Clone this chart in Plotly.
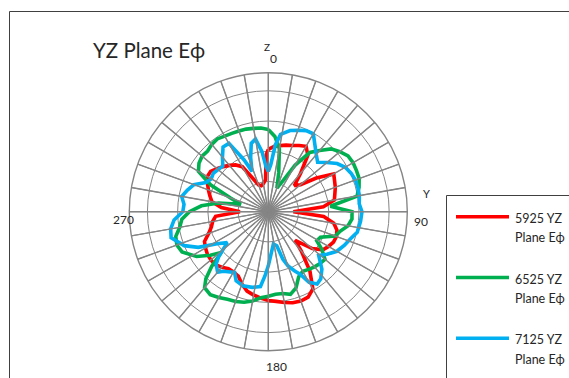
import plotly.graph_objects as go

W, H = 569, 378

# ---------------- data ----------------
series_names = ["5925 YZ Plane Eϕ", "6525 YZ Plane Eϕ", "7125 YZ Plane Eϕ"]
series_colors = ["#FF0000", "#00B050", "#00B0F0"]

theta_5925 = [0, 5, 10, 15, 20, 25, 30, 35, 40, 45, 50, 55, 60, 65, 70, 75, 80, 85, 90, 95,
              100, 105, 110, 115, 120, 125, 130, 137, 140, 145, 150, 155, 160, 165, 170, 175,
              180, 185, 190, 195, 200, 205, 210, 215, 220, 225, 230, 235, 240, 245, 250, 255,
              260, 265, 270, 275, 280, 285, 290, 295, 300, 305, 310, 315, 320, 325, 330, 335,
              340, 345, 350, 355, 358]
r_5925 = [20.6, 21.7, 22.2, 22.8, 23.3, 24.2, 25.0, 22.8, 16.7, 12.2, 13.9, 19.4, 25.0, 24.2,
          23.6, 22.8, 22.2, 18.3, 8.3, 18.4, 22.0, 23.5, 24.0, 23.8, 23.0, 22.0, 19.0, 13.0,
          17.0, 24.0, 29.5, 31.2, 31.5, 31.2, 30.5, 29.8, 29.4, 28.7, 28.0, 27.2, 25.5, 23.5,
          23.0, 23.0, 24.0, 24.8, 24.8, 24.6, 24.0, 23.3, 21.0, 19.5, 18.7, 17.5, 9.4, 15.6,
          18.9, 20.0, 21.1, 22.2, 23.3, 23.3, 22.2, 21.1, 20.0, 18.9, 17.2, 12.2, 9.4, 8.9,
          9.4, 10.6, 18.9]

theta_6525 = [0, 5, 10, 15, 20, 25, 30, 35, 40, 45, 50, 55, 60, 65, 70, 75, 80, 85, 90, 95,
              100, 105, 110, 116, 121, 125, 130, 135, 140, 145, 150, 155, 160, 165, 170, 175,
              180, 185, 190, 195, 200, 205, 210, 215, 220, 223, 226, 229, 233, 238, 245, 250,
              255, 260, 265, 270, 275, 280, 285, 290, 295, 300, 305, 310, 315, 320, 325, 330,
              335, 340, 345, 350, 355]
r_6525 = [27.2, 25.0, 21.1, 13.3, 8.3, 11.1, 17.8, 23.9, 26.4, 29.4, 30.9, 32.2, 32.4, 32.2,
          32.0, 31.1, 29.8, 20.6, 27.7, 27.8, 26.8, 24.7, 23.6, 19.2, 18.7, 21.6, 24.5, 24.2,
          23.8, 23.3, 22.8, 23.8, 26.8, 28.3, 27.5, 27.4, 28.0, 28.6, 30.0, 31.0, 31.6, 32.0,
          32.8, 33.5, 32.8, 30.3, 26.0, 20.6, 24.0, 28.0, 31.5, 32.2, 31.7, 29.8, 28.7, 26.1,
          22.2, 16.7, 9.4, 13.3, 21.1, 26.7, 28.0, 28.6, 28.4, 29.1, 29.4, 28.9, 28.6, 28.4,
          28.3, 28.0, 27.8]

theta_7125 = [0, 3, 6, 9, 15, 20, 25, 30, 35, 40, 45, 50, 55, 60, 65, 70, 75, 80, 85, 90, 96,
              103, 108, 114, 120, 126, 131, 137, 142, 146, 150, 153, 156, 160, 163, 166, 171,
              180, 183, 186, 192, 199, 205, 209, 217, 220, 225, 228, 233, 238, 243, 248, 255,
              260, 265, 270, 275, 280, 285, 290, 295, 300, 305, 310, 315, 320, 325, 330, 335,
              338, 342, 346, 350, 354, 357]
r_7125 = [13.3, 15.6, 22.2, 25.9, 27.8, 28.7, 29.6, 29.8, 26.9, 24.7, 23.1, 25.3, 27.8, 29.4,
          30.2, 30.7, 30.7, 30.6, 30.2, 31.0, 30.7, 30.2, 28.7, 27.5, 26.2, 24.0, 22.1, 26.0,
          28.2, 28.9, 27.0, 23.2, 21.5, 19.1, 16.4, 11.6, 10.8, 17.9, 21.3, 24.9, 25.6, 25.9,
          25.2, 23.0, 24.7, 26.1, 24.4, 22.0, 17.0, 20.0, 26.0, 30.0, 33.3, 32.8, 31.3, 28.3,
          28.0, 29.1, 27.7, 26.2, 22.8, 21.8, 22.2, 21.7, 21.3, 23.6, 26.1, 26.1, 18.9, 14.4,
          18.9, 23.3, 24.4, 20.0, 15.0]

angle_ticks = list(range(0, 360, 10))
angle_labels = ["0", "90", "180", "270"]
ring_values = [10, 20, 30, 40]
r_max = 46

thetas = [theta_5925, theta_6525, theta_7125]
radii = [r_5925, r_6525, r_7125]

# ---------------- helpers ----------------
def px(x):
    return x / W


def py(y):
    return 1 - y / H


FONT = "Lato, 'Noto Sans', 'DejaVu Sans', sans-serif"
GRID = "#858585"
TEXT = "#262626"

fig = go.Figure()

for name, col, th, rr in zip(series_names, series_colors, thetas, radii):
    fig.add_trace(go.Scatterpolar(
        theta=th + [th[0]], r=rr + [rr[0]], mode="lines", name=name,
        line=dict(color=col, width=3.6), showlegend=False, hoverinfo="skip"))

# spokes drawn above the series (as in the reference)
sp_t, sp_r = [], []
for a in angle_ticks:
    sp_t += [a, a, None]
    sp_r += [0, r_max, None]
fig.add_trace(go.Scatterpolar(theta=sp_t, r=sp_r, mode="lines", connectgaps=False,
                              line=dict(color=GRID, width=1.4), showlegend=False,
                              hoverinfo="skip"))

cx, cy, R = 268.3, 211.7, 139
fig.update_layout(
    width=W, height=H,
    margin=dict(l=0, r=0, t=0, b=0, autoexpand=False),
    paper_bgcolor="white",
    font=dict(family=FONT, color=TEXT),
    polar=dict(
        domain=dict(x=[px(cx - R), px(cx + R)], y=[py(cy + R), py(cy - R)]),
        bgcolor="white",
        angularaxis=dict(
            rotation=90, direction="clockwise",
            tickmode="array", tickvals=angle_ticks,
            ticktext=["" for a in angle_ticks],
            ticks="", showgrid=True, gridcolor=GRID, gridwidth=1.4,
            showline=True, linecolor=GRID, linewidth=1.4,
        ),
        radialaxis=dict(
            range=[0, r_max], tickmode="array", tickvals=ring_values,
            showticklabels=False, ticks="", showline=False,
            showgrid=True, gridcolor=GRID, gridwidth=1.1,
        ),
    ),
)

# chart border and legend box
shapes = [
    dict(type="rect", xref="paper", yref="paper", x0=px(9.5), y0=py(11.5), x1=px(700),
         y1=py(500), line=dict(color="#404040", width=1), fillcolor="rgba(0,0,0,0)"),
    dict(type="rect", xref="paper", yref="paper", x0=px(446.5), y0=py(195.5), x1=px(700),
         y1=py(500), line=dict(color="#404040", width=1), fillcolor="rgba(0,0,0,0)"),
]


def label(text, x, y, size, anchor="center"):
    return dict(text=text, x=px(x), y=py(y), xref="paper", yref="paper",
                xanchor=anchor, yanchor="middle", showarrow=False,
                font=dict(size=size, family=FONT, color=TEXT))


annotations = [
    label("YZ Plane Eϕ", 91, 50, 20.5, "left"),
    label("Z", 266.7, 47, 10),
    label("Y", 426, 193, 11),
    # angular axis labels (Excel-style placement)
    label(angle_labels[0], 273, 58.5, 12),
    label(angle_labels[1], 421, 221, 12),
    label(angle_labels[2], 276, 366, 12),
    label(angle_labels[3], 123.5, 219.5, 12),
]

for i, (name, col) in enumerate(zip(series_names, series_colors)):
    ly = 216.7 + 60.8 * i
    shapes.append(dict(type="line", xref="paper", yref="paper", x0=px(456), x1=px(509),
                       y0=py(ly), y1=py(ly), line=dict(color=col, width=3.5)))
    first, second = name.split(" Plane ")
    for j, txt in enumerate([first, "Plane " + second]):
        annotations.append(label(txt, 512.5, ly + 1.5 + 19.3 * j, 12.5, "left"))

fig.update_layout(shapes=shapes, annotations=annotations)
fig.write_html("out.html", config={"displayModeBar": False},
               post_script="document.body.style.margin='0';")
